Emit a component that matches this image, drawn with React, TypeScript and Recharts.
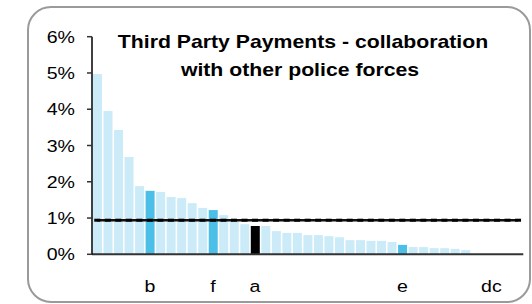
import React from 'react';
import { ComposedChart, Bar, Line, XAxis, YAxis, Cell } from 'recharts';

const labels = ['', '', '', '', '', 'b', '', '', '', '', '', 'f', '', '', '', 'a', '', '', '', '', '', '', '', '', '', '', '', '', '', 'e', '', '', '', '', '', '', '', 'd', 'c', '', ''];
const values = [4.97, 3.95, 3.43, 2.68, 1.88, 1.75, 1.72, 1.58, 1.55, 1.41, 1.28, 1.22, 1.08, 0.93, 0.83, 0.78, 0.78, 0.64, 0.59, 0.59, 0.53, 0.53, 0.5, 0.47, 0.39, 0.39, 0.37, 0.37, 0.34, 0.26, 0.2, 0.2, 0.17, 0.17, 0.15, 0.12];
const kinds = ['l', 'l', 'l', 'l', 'l', 'h', 'l', 'l', 'l', 'l', 'l', 'h', 'l', 'l', 'l', 'k', 'l', 'l', 'l', 'l', 'l', 'l', 'l', 'l', 'l', 'l', 'l', 'l', 'l', 'h', 'l', 'l', 'l', 'l', 'l', 'l'];
const average = 0.94;
const yTicks = [0, 1, 2, 3, 4, 5, 6];
const titleLines = ['Third Party Payments - collaboration', 'with other police forces'];

const colorOf: Record<string, string> = { l: '#CCEBF8', h: '#4BBFE8', k: '#000000' };

const data = labels.map((lab, i) => ({
  id: i,
  label: lab,
  value: i < values.length ? values[i] : null,
  avg: average,
}));

const FONT = '"Liberation Sans", Arial, sans-serif';
const SX = 1.15;

const stretch = (x: number, s: number) => `translate(${x},0) scale(${s},1) translate(${-x},0)`;

const Dash = (props: any) => {
  const { cx, cy } = props;
  if (cx == null || cy == null) return null;
  return <rect x={cx - 3} y={cy - 1.5} width={6} height={3} fill="#000" />;
};

const YTick = (props: any) => {
  const { x, y, payload } = props;
  return (
    <text x={x} y={y} dy="0.355em" textAnchor="end" fontFamily={FONT} fontSize={17} fill="#000" transform={stretch(x, SX)}>
      {`${payload.value}%`}
    </text>
  );
};

const XTick = (props: any) => {
  const { x, y, payload } = props;
  const t = labels[payload.value as number];
  if (!t) return null;
  return (
    <text x={x} y={y} dy="0.71em" textAnchor="middle" fontFamily={FONT} fontSize={17} fill="#000" transform={stretch(x, SX)}>
      {t}
    </text>
  );
};

export default function App() {
  return (
    <div style={{ position: 'absolute', left: 0, top: 0, width: 532, height: 304, background: '#fff' }}>
      <div
        style={{
          position: 'absolute',
          left: 27,
          top: 6,
          width: 504,
          height: 297,
          boxSizing: 'border-box',
          border: '2px solid #9a9a9a',
          borderRadius: 24,
        }}
      />
      <div style={{ position: 'absolute', left: 0, top: 0 }}>
        <ComposedChart
          width={532}
          height={304}
          data={data}
          margin={{ top: 36.7, right: 8.7, bottom: 9.7, left: 0 }}
        >
          <XAxis
            dataKey="id"
            type="category"
            interval={0}
            tickLine={false}
            tickSize={0}
            tickMargin={26}
            height={40}
            tick={<XTick />}
            axisLine={{ stroke: '#333', strokeWidth: 2 }}
          />
          <YAxis
            width={92}
            domain={[0, 6]}
            ticks={yTicks}
            interval={0}
            tickSize={5}
            tickMargin={12}
            tick={<YTick />}
            axisLine={{ stroke: '#000', strokeWidth: 1.5 }}
            tickLine={{ stroke: '#333', strokeWidth: 1.5 }}
          />
          <Bar dataKey="value" barSize={9} isAnimationActive={false}>
            {data.map((d, i) => (
              <Cell key={i} fill={colorOf[kinds[i]] || '#CCEBF8'} />
            ))}
          </Bar>
          <Line
            dataKey="avg"
            stroke="#111"
            strokeWidth={2.5}
            dot={<Dash />}
            activeDot={false}
            isAnimationActive={false}
          />
        </ComposedChart>
      </div>
      <svg
        width={532}
        height={304}
        style={{ position: 'absolute', left: 0, top: 0, pointerEvents: 'none' }}
      >
        <text x={303} y={48} textAnchor="middle" fontFamily={FONT} fontWeight="bold" fontSize={18} fill="#000" transform={stretch(303, 1.18)}>
          {titleLines[0]}
        </text>
        <text x={300} y={76.5} textAnchor="middle" fontFamily={FONT} fontWeight="bold" fontSize={18} fill="#000" transform={stretch(300, 1.18)}>
          {titleLines[1]}
        </text>
      </svg>
    </div>
  );
}
